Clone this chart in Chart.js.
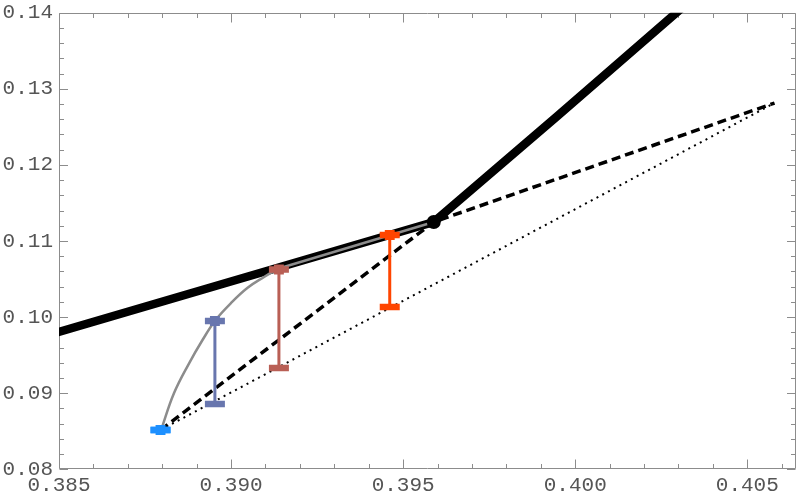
<!DOCTYPE html>
<html><head><meta charset="utf-8">
<script src="https://cdn.jsdelivr.net/npm/chart.js@4/dist/chart.umd.min.js"></script>
<style>html,body{margin:0;padding:0;background:#fff}canvas{display:block}</style>
</head><body>
<canvas id="c" width="797" height="501"></canvas>
<script>
// axis ticks
const xTicks = [0.385, 0.390, 0.395, 0.400, 0.405];
const yTicks = [0.08, 0.09, 0.10, 0.11, 0.12, 0.13, 0.14];
const xMinorTicks = [0.386,0.387,0.388,0.389,0.391,0.392,0.393,0.394,0.396,0.397,0.398,0.399,0.401,0.402,0.403,0.404,0.406];
const yMinorTicks = [0.082,0.084,0.086,0.088,0.092,0.094,0.096,0.098,0.102,0.104,0.106,0.108,0.112,0.114,0.116,0.118,0.122,0.124,0.126,0.128,0.132,0.134,0.136,0.138];

// thick black curve
const thickX = [0.3845, 0.39589, 0.3995, 0.4035];
const thickY = [0.0974, 0.1125, 0.12648, 0.1422];
// grey curve
const grayX = [0.38797, 0.38834, 0.38878, 0.38917, 0.38955, 0.38999, 0.39048, 0.39097, 0.39136];
const grayY = [0.0852, 0.08999, 0.09393, 0.09699, 0.09962, 0.10181, 0.10385, 0.1053, 0.10635];
const grayTailX = [0.39136, 0.39589];
const grayTailY = [0.10635, 0.1125];
// dashed line
const dashX = [0.38795, 0.39589, 0.40579];
const dashY = [0.08516, 0.1125, 0.12813];
// dotted line
const dotX = [0.38795, 0.40579];
const dotY = [0.08516, 0.12813];
// kink point
const kinkX = [0.39589];
const kinkY = [0.1125];
// error bars
const ebX = [0.38795, 0.38953, 0.39139, 0.39461];
const ebLow = [0.08516, 0.08858, 0.09331, 0.10133];
const ebHigh = [0.08516, 0.09949, 0.10625, 0.11079];
const ebColors = ['#1E90FF', '#6876AE', '#B95F55', '#FF4500'];

const pts = (xs, ys) => xs.map((x, i) => ({x: x, y: ys[i]}));

const datasets = [];
datasets.push({data: pts(dotX, dotY), showLine: true, borderColor: '#000', borderWidth: 2, borderDash: [2, 4.5], pointRadius: 0, order: 20, clip: 0});
datasets.push({data: pts(dashX, dashY), showLine: true, borderColor: '#000', borderWidth: 3.5, borderDash: [9, 5], pointRadius: 0, order: 19, clip: 0});
datasets.push({data: pts(thickX, thickY), showLine: true, borderColor: '#000', borderWidth: 8.5, pointRadius: 0, order: 18, clip: 0, borderCapStyle: 'butt', borderJoinStyle: 'round'});
datasets.push({data: pts(grayX, grayY), showLine: true, borderColor: '#8c8c8c', borderWidth: 2.5, pointRadius: 0, tension: 0.4, order: 17, clip: 0});
datasets.push({data: pts(grayTailX, grayTailY), showLine: true, borderColor: '#8c8c8c', borderWidth: 2.5, pointRadius: 0, order: 17, clip: 0});
ebX.forEach((x, i) => {
  datasets.push({data: [{x: x, y: ebLow[i]}, {x: x, y: ebHigh[i]}], showLine: true, borderColor: ebColors[i], borderWidth: 3, pointRadius: 0, order: 16, clip: 0});
  datasets.push({data: [{x: x, y: ebLow[i]}, {x: x, y: ebHigh[i]}], showLine: false, pointStyle: 'line', pointRadius: 10, pointBorderWidth: 6.5, pointBorderColor: ebColors[i], pointBackgroundColor: ebColors[i], order: 15, clip: 0});
  datasets.push({data: [{x: x, y: ebHigh[i]}], showLine: false, pointStyle: 'rect', pointRadius: 7, pointBorderWidth: 0, pointBackgroundColor: ebColors[i], order: 15, clip: 0});
});
datasets.push({data: pts(kinkX, kinkY), showLine: false, pointRadius: 7, pointBackgroundColor: '#000', pointBorderColor: '#000', pointBorderWidth: 0, order: 1, clip: 0});

const FRAME = '#8c8c8c';
const framePlugin = {
  id: 'frame',
  beforeDatasetsDraw(chart) {
    const {ctx, chartArea: a, scales} = chart;
    ctx.save();
    ctx.strokeStyle = FRAME;
    ctx.lineWidth = 1;
    ctx.beginPath();
    const X = v => Math.round(scales.x.getPixelForValue(v)) + 0.5;
    const Y = v => Math.round(scales.y.getPixelForValue(v)) + 0.5;
    const L = Math.round(a.left) + 0.5, R = Math.round(a.right) - 0.5, T = Math.round(a.top) + 0.5, B = Math.round(a.bottom) - 0.5;
    ctx.rect(L, T, R - L, B - T);
    const xt = (v, len) => { const p = X(v); ctx.moveTo(p, B); ctx.lineTo(p, B - len); ctx.moveTo(p, T); ctx.lineTo(p, T + len); };
    const yt = (v, len) => { const p = Y(v); ctx.moveTo(L, p); ctx.lineTo(L + len, p); ctx.moveTo(R, p); ctx.lineTo(R - len, p); };
    xTicks.forEach(v => xt(v, 9));
    xMinorTicks.forEach(v => xt(v, 4.5));
    yTicks.forEach(v => yt(v, 8.5));
    yMinorTicks.forEach(v => yt(v, 4.5));
    ctx.stroke();
    ctx.restore();
  }
};

const FONT = {family: "'Liberation Mono', 'DejaVu Sans Mono', monospace", size: 21};
new Chart(document.getElementById('c'), {
  type: 'scatter',
  data: {datasets: datasets},
  plugins: [framePlugin],
  options: {
    responsive: false,
    animation: false,
    devicePixelRatio: 1,
    layout: {autoPadding: false, padding: {top: 12.7, right: 1.5, left: 0, bottom: 0}},
    plugins: {legend: {display: false}, tooltip: {enabled: false}},
    scales: {
      x: {
        type: 'linear', min: 0.385, max: 0.4064,
        grid: {display: false, drawTicks: false}, border: {display: false},
        afterBuildTicks: s => { s.ticks = xTicks.map(v => ({value: v})); },
        afterFit: s => { s.height = 31.7; s.paddingLeft = 0; s.paddingRight = 0; },
        ticks: {font: FONT, color: '#555', padding: 4, maxRotation: 0, autoSkip: false, callback: v => v.toFixed(3)}
      },
      y: {
        type: 'linear', min: 0.08, max: 0.14,
        grid: {display: false, drawTicks: false}, border: {display: false},
        afterBuildTicks: s => { s.ticks = yTicks.map(v => ({value: v})); },
        afterFit: s => { s.width = 59; s.paddingTop = 0; s.paddingBottom = 0; },
        ticks: {font: FONT, color: '#555', padding: 6, autoSkip: false, callback: v => v.toFixed(2)}
      }
    }
  }
});
</script>
</body></html>
